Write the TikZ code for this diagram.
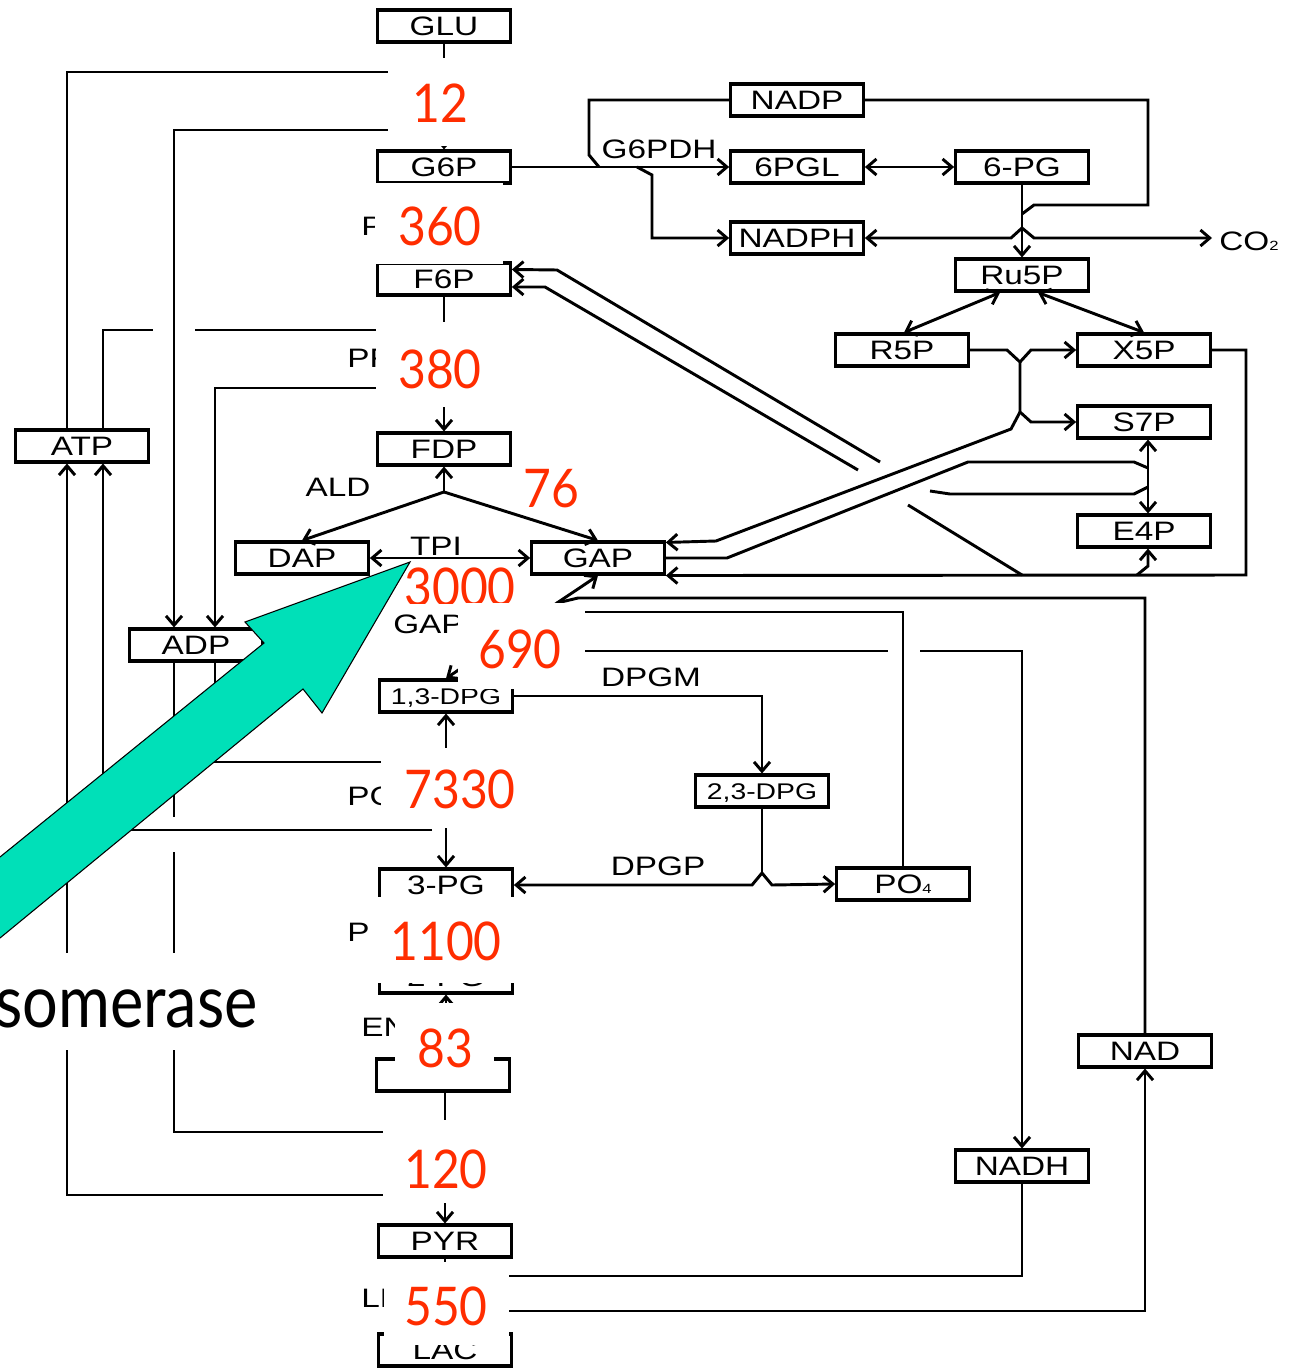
\documentclass[tikz,border=0pt]{standalone}
\usepackage{graphicx}
\usepackage{fontspec}
\setmainfont{Liberation Sans}
\newfontfamily\numfont{Lato}
\usetikzlibrary{arrows.meta,calc}
\definecolor{numred}{RGB}{255,45,0}
\definecolor{arrgreen}{RGB}{0,224,184}
\newcommand{\lbl}[1]{\scalebox{1.25}[1]{#1}}
\newcommand{\rn}[1]{\scalebox{0.9}[1]{#1}}
\newcommand{\sbs}[1]{{\fontsize{10}{10}\selectfont #1}}
\begin{document}
\begin{tikzpicture}[x=0.75pt,y=-0.75pt,
  box/.style={draw, line width=2.3pt, minimum width=99.5pt, minimum height=24pt, inner sep=0pt, text height=14pt, text depth=0pt, font=\fontsize{20}{20}\selectfont},
  sbox/.style={box, font=\fontsize{17}{17}\selectfont, text height=12.3pt},
  con/.style={line width=2.2pt},
  arr/.style={con,-{Straight Barb[length=7pt,width=12pt]}},
  arrb/.style={con,{Straight Barb[length=7pt,width=12pt]}-{Straight Barb[length=7pt,width=12pt]}},
  lab/.style={anchor=base west, inner sep=0pt, font=\fontsize{20}{20}\selectfont},
  labc/.style={anchor=base, inner sep=0pt, font=\fontsize{20}{20}\selectfont},
  rednum/.style={anchor=base, inner sep=0pt, text=numred, font=\numfont\fontsize{40}{40}\selectfont},
  mask/.style={fill=white, draw=none}
]
\useasboundingbox (0,0) rectangle (1298,1369);
\fill[white] (0,0) rectangle (1298,1369);

% ---------- boxes ----------
\node[box] (GLU) at (444,26) {\lbl{GLU}};
\node[box] (G6P) at (444,167) {\lbl{G6P}};
\node[box] (F6P) at (444,279) {\lbl{F6P}};
\node[box] (FDP) at (444,449) {\lbl{FDP}};
\node[box] (DAP) at (302,558) {\lbl{DAP}};
\node[box] (GAP) at (598,558) {\lbl{GAP}};
\node[sbox] (DPG13) at (446,696) {\lbl{1,3-DPG}};
\node[box] (PG3) at (446,885) {\lbl{3-PG}};
\node[box] (PG2) at (446,977) {\lbl{2-PG}};
\node[box] (PEP) at (443,1075) {\lbl{PEP}};
\node[box] (PYR) at (445,1241) {\lbl{PYR}};
\node[box] (LAC) at (445,1350) {\lbl{LAC}};
\node[box] (ATP) at (82,446) {\lbl{ATP}};
\node[box] (ADP) at (196,645) {\lbl{ADP}};
\node[box] (NADP) at (797,100) {\lbl{NADP}};
\node[box] (PGL) at (797,167) {\lbl{6PGL}};
\node[box] (PG6) at (1022,167) {\lbl{6-PG}};
\node[box] (NADPH) at (797,238) {\lbl{NADPH}};
\node[box] (Ru5P) at (1022,275) {\lbl{Ru5P}};
\node[box] (R5P) at (902,350) {\lbl{R5P}};
\node[box] (X5P) at (1144,350) {\lbl{X5P}};
\node[box] (S7P) at (1144,422) {\lbl{S7P}};
\node[box] (E4P) at (1144,531) {\lbl{E4P}};
\node[sbox] (DPG23) at (762,791) {\lbl{2,3-DPG}};
\node[box] (PO4) at (903,884) {\lbl{PO\sbs{4}}};
\node[box] (NAD) at (1145,1051) {\lbl{NAD}};
\node[box] (NADH) at (1022,1166) {\lbl{NADH}};
\node[anchor=west, inner sep=0pt, text height=14pt, text depth=0pt, font=\fontsize{20}{20}\selectfont] (CO2) at (1219,241) {\lbl{CO\sbs{2}}};

% ---------- glycolysis main chain ----------
\draw[arr] (GLU.south) -- (G6P.north);
\draw[arr] (G6P.south) -- (F6P.north);
\draw[arr] (F6P.south) -- (FDP.north);
\coordinate (ald) at (444,492);
\draw[arr] (ald) -- (FDP.south);
\draw[arr] (ald) -- (DAP.north);
\draw[arr] (ald) -- (GAP.north);
\draw[arrb] (DAP.east) -- (GAP.west);
\coordinate (gapj) at (557,603);
\draw[arrb] (GAP.south) -- (gapj) -- (DPG13.north);
\draw[con] (NAD.north) |- (578,598) -- (gapj);
\draw[con] (PO4.north) |- (540,612);
\draw[con] (540,651) -- (888,651);
\draw[arr] (920,651) -| (NADH.north);
\draw[arrb] (DPG13.south) -- (PG3.north);
\draw[arr] (PG3.south) -- (PG2.north);
\draw[arr] (PG2.south |- PEP.north) -- (PG2.south);
\draw[arr] (PYR.north |- PEP.south) -- (PYR.north);
\draw[arr] (PYR.south) -- (LAC.north);
\draw[con] (NADH.south) |- (460,1276);
\draw[arr] (460,1311) -| (NAD.south);

% ---------- ATP / ADP ----------
\draw[con] ($(ATP.north)+(-15,0)$) |- (430,72);
\draw[arr] (430,130) -| ($(ADP.north)+(-22,0)$);
\draw[con] ($(ATP.north)+(21,0)$) |- (153,330);
\draw[con] (195,330) -- (430,330);
\draw[arr] (430,388) -| ($(ADP.north)+(19,0)$);
\draw[con] ($(ADP.south)+(19,0)$) |- (430,762);
\draw[arr] (432,830) -| ($(ATP.south)+(21,0)$);
\draw[con] ($(ADP.south)+(-22,0)$) -- (174,817);
\draw[con] (174,852) |- (430,1132);
\draw[arr] (430,1195) -| ($(ATP.south)+(-15,0)$);

% ---------- pentose phosphate pathway ----------
\draw[arr] (G6P.east) -- (PGL.west);
\draw[con] (NADP.west) -| (589,155) -- (599,167);
\draw[arr] (637,167) -- (652,175) |- (NADPH.west);
\draw[arrb] (PGL.east) -- (PG6.west);
\draw[arr] (PG6.south) -- (Ru5P.north);
\draw[con] (NADP.east) -| (1148,205) -- (1034,205) -- (1022,214);
\draw[arr] (1022,228) -- (1011,238) -- (NADPH.east);
\draw[arr] (1022,228) -- (1034,238) -- ($(CO2.west)+(-7,-3)$);
\draw[arrb] ($(Ru5P.south)+(-22,0)$) -- ($(R5P.north)+(2,0)$);
\draw[arrb] ($(Ru5P.south)+(16,0)$) -- (X5P.north);
\draw[arr] (R5P.east) -- (1007,350) -- (1020,362) -- (1020,412) -- (1031,422) -- (S7P.west);
\draw[arr] (1020,362) -- (1031,350) -- (X5P.west);
\draw[arr] (1020,412) -- (1011,429) -- (716,541) -- ($(GAP.north east)+(0,2)$);
\draw[con] (GAP.east) -- (727,558) -- (968,462) -- (1134,462) -- (1148,468);
\draw[arrb] ($(S7P.south)+(4,0)$) -- ($(E4P.north)+(4,0)$);
\draw[arr] (880,462) -- (557,270) -- ($(F6P.north east)+(0,8)$);
\draw[con] (930,491) -- (950,494) -- (1134,494) -- (1148,487);
\draw[arr] (858,470) -- (545,287) -- ($(F6P.east)+(0,8)$);
\draw[con] (908,505) -- (1022,575);
\draw[arr] (X5P.east) -| (1246,575) -- (GAP.south east);
\draw[arr] (1137,575) -- (1148,566) -- ($(E4P.south)+(4,0)$);

% ---------- 2,3-DPG shunt ----------
\draw[arr] (DPG13.east) -| (DPG23.north);
\draw[con] (DPG23.south) -- (762,873);
\draw[arr] (762,873) -- (752,885) -- (PG3.east);
\draw[arr] (762,873) -- (772,885) -- (PO4.west);

% ---------- enzyme labels ----------
\node[labc] (lG6PDH) at (659,159) {\lbl{G6PDH}};
\node[labc] (lALD) at (338,496) {\lbl{ALD}};
\node[labc] (lTPI) at (436,555) {\lbl{TPI}};
\node[lab] (lGAPDH) at (393,633) {\lbl{GAPDH}};
\node[labc] (lDPGM) at (651,686) {\lbl{DPGM}};
\node[labc] (lDPGP) at (658,875) {\lbl{DPGP}};
\node[lab] (lPGI) at (361,236) {\lbl{PGI}};
\node[lab] (lPFK) at (347,367) {\lbl{PFK}};
\node[lab] (lPGK) at (347,805) {\lbl{PGK}};
\node[lab] (lPGM) at (347,941) {\lbl{PGM}};
\node[lab] (lENO) at (361,1036) {\lbl{ENO}};
\node[lab] (lLDH) at (361,1307) {\lbl{LDH}};

% ---------- red numbers on white ----------
\fill[mask] (388,58) rectangle (500,146);
\node[rednum] (n12) at (440,123) {\rn{12}};
\fill[mask] (375,183) rectangle (503,264.5);
\node[rednum] (n360) at (440,246) {\rn{360}};
\fill[mask] (376,322) rectangle (500,407);
\node[rednum] (n380) at (440,388) {\rn{380}};
\node[rednum] (n76) at (551,507) {\rn{76}};
\fill[mask] (403,564) rectangle (517,603);
\begin{scope}
\clip (395,562) rectangle (525,603);
\node[rednum] (n3000) at (460,606) {\rn{3000}};
\end{scope}
\fill[mask] (458,603) rectangle (585,689);
\node[rednum] (n690) at (520,668) {\rn{690}};
\fill[mask] (381,748) rectangle (522,828);
\node[rednum] (n7330) at (460,808) {\rn{7330}};
\fill[mask] (369,897) rectangle (520,983);
\node[rednum] (n1100) at (446,960) {\rn{1100}};
\fill[mask] (395,1003) rectangle (494,1088);
\node[rednum] (n83) at (445,1067) {\rn{83}};
\fill[mask] (383,1120) rectangle (510,1203);
\node[rednum] (n120) at (446,1188) {\rn{120}};
\fill[mask] (384,1262) rectangle (509,1345);
\node[rednum] (n550) at (446,1325) {\rn{550}};

% ---------- green arrow and caption ----------
\fill[arrgreen]
  (0,857) -- (264,643) -- (245,622) -- (410,562) -- (322,713) -- (303,689) -- (0,938) -- cycle;
\draw[black, line width=0.8pt]
  (0,857) -- (264,643) -- (245,622) -- (410,562) -- (322,713) -- (303,689) -- (0,938);
\fill[mask] (0,953) rectangle (262,1050);
\node[anchor=base east, inner sep=0pt, font=\numfont\fontsize{55}{55}\selectfont] (cap) at (258,1027) {\scalebox{0.86}[1]{somerase}};
\end{tikzpicture}
\end{document}
